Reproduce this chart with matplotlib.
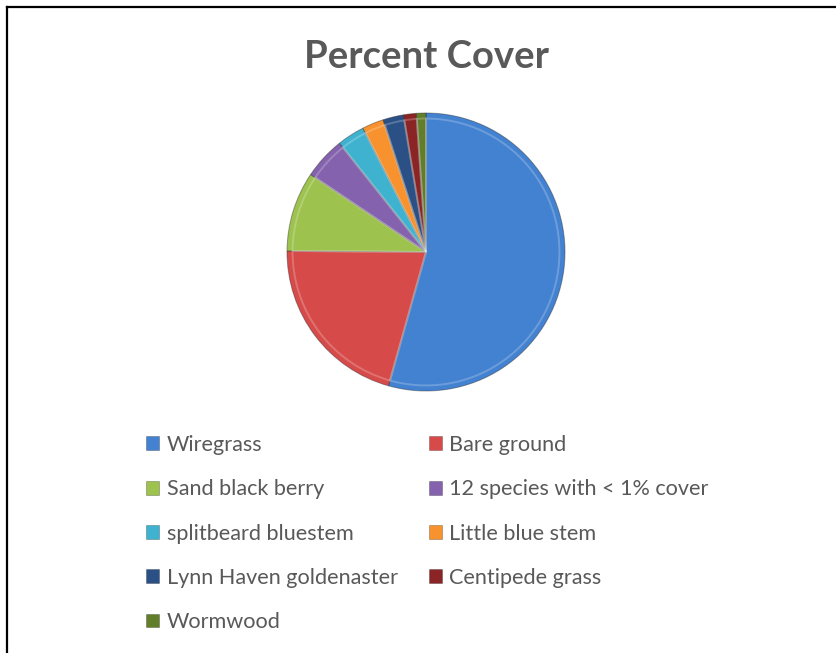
import matplotlib
matplotlib.use("Agg")
import matplotlib.pyplot as plt
from matplotlib.patches import Patch
from matplotlib.lines import Line2D

species = [
    "Wiregrass", "Bare ground", "Sand black berry", "12 species with < 1% cover",
    "splitbeard bluestem", "Little blue stem", "Lynn Haven goldenaster",
    "Centipede grass", "Wormwood",
]
cover = [54.4, 20.8, 9.3, 4.9, 3.2, 2.5, 2.4, 1.5, 1.1]
colors = ["#4382D0", "#D64B49", "#9DC24E", "#8462AE", "#3FB2CF",
          "#F7922F", "#2A5086", "#8B2424", "#627E2A"]

plt.rcParams["font.family"] = ["Lato", "DejaVu Sans"]

W, H = 836, 653
fig = plt.figure(figsize=(W / 100, H / 100), dpi=100)

# pie: centre (426, 252) px, radius 139 px
cx, cy, r = 426, 252, 139
ax = fig.add_axes([(cx - r) / W, (H - cy - r) / H, 2 * r / W, 2 * r / H])
wedges, _ = ax.pie(cover, colors=colors, startangle=90, counterclock=False,
                   radius=1.0,
                   wedgeprops=dict(edgecolor="#22222266", linewidth=0.7))
# soft inner bevel
bevel, _ = ax.pie(cover, startangle=90, counterclock=False, radius=0.96,
                  wedgeprops=dict(edgecolor=(1, 1, 1, 0.22), linewidth=1.4,
                                  fill=False))
for w in wedges + bevel:
    w.set_clip_on(False)
ax.set_xlim(-1, 1)
ax.set_ylim(-1, 1)
ax.set_aspect("equal")
ax.axis("off")

fig.text(cx / W, 1 - 57 / H, "Percent Cover", ha="center", va="center",
         fontsize=27.5, fontweight="bold", color="#595959")

# legend filled row by row
order = [0, 2, 4, 6, 8, 1, 3, 5, 7]
handles = [Patch(facecolor=colors[i], edgecolor="#00000055", linewidth=0.5)
           for i in order]
labels = [species[i] for i in order]
fig.legend(handles, labels, ncol=2, loc="upper left",
           bbox_to_anchor=(146 / W, 1 - 435 / H), frameon=False,
           fontsize=15.6, labelcolor="#595959", handlelength=0.6,
           handleheight=0.6, handletextpad=0.35, columnspacing=1.43,
           labelspacing=1.12, borderpad=0, borderaxespad=0)

# outer frame (left and top edges)
fig.add_artist(Line2D([7 / W, 7 / W], [0, 1 - 7 / H], transform=fig.transFigure,
                      color="black", linewidth=1.6))
fig.add_artist(Line2D([7 / W, 1], [1 - 7 / H, 1 - 7 / H], transform=fig.transFigure,
                      color="black", linewidth=1.6))

fig.savefig("out.png", dpi=100, facecolor="white")
